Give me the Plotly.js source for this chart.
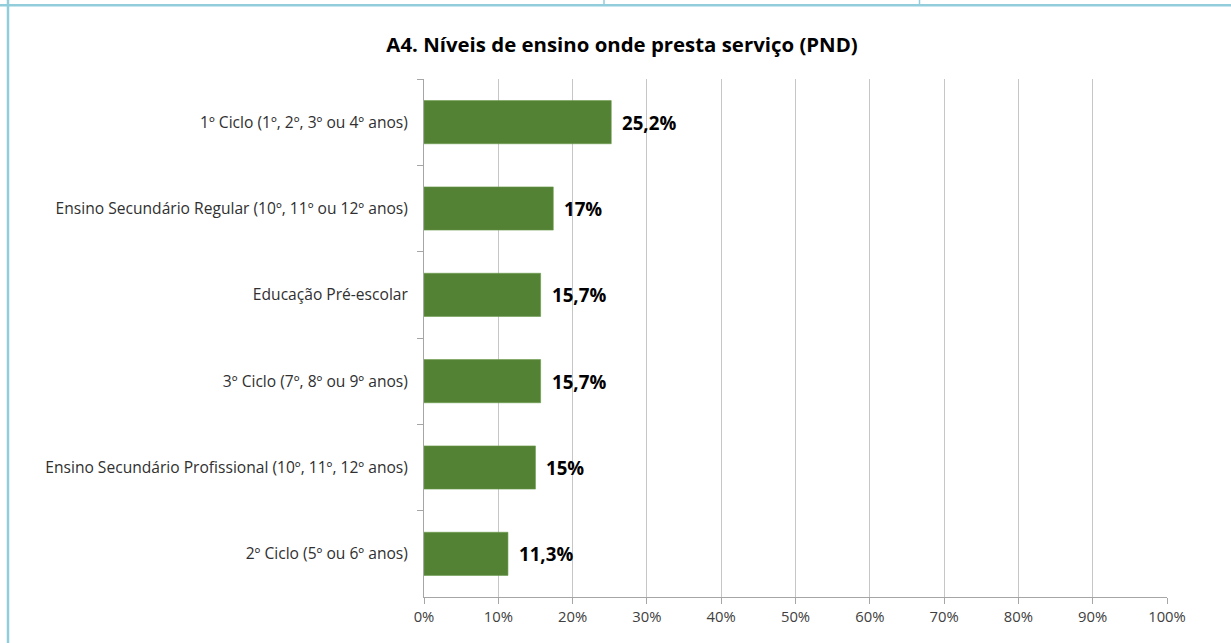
<!DOCTYPE html>
<html>
<head>
<meta charset="utf-8">
<script src="https://cdn.plot.ly/plotly-3.0.1.min.js"></script>
<style>
html,body{margin:0;padding:0;background:#fff;}
#chart{width:1231px;height:643px;}
</style>
</head>
<body>
<div id="chart"></div>
<script>
const categories = [
  "1º Ciclo (1º, 2º, 3º ou 4º anos)",
  "Ensino Secundário Regular (10º, 11º ou 12º anos)",
  "Educação Pré-escolar",
  "3º Ciclo (7º, 8º ou 9º anos)",
  "Ensino Secundário Profissional (10º, 11º, 12º anos)",
  "2º Ciclo (5º ou 6º anos)"
];
const values = [25.2, 17.4, 15.7, 15.7, 15, 11.3];
const valueLabels = ["25,2%", "17%", "15,7%", "15,7%", "15%", "11,3%"];
const tickValues = [0, 10, 20, 30, 40, 50, 60, 70, 80, 90, 100];
const tickLabels = ["0%", "10%", "20%", "30%", "40%", "50%", "60%", "70%", "80%", "90%", "100%"];
const titleText = "A4. Níveis de ensino onde presta serviço (PND)";

const W = 1231, H = 643;
const L = 424, R = 1167, T = 79, B = 597;
const px = x => (x - L) / (R - L);
const py = y => (B - y) / (B - T);
const border = "#92CDDC";
const FONT = "'Open Sans', 'Noto Sans', sans-serif";

const trace = {
  type: "bar",
  orientation: "h",
  x: values,
  y: categories,
  marker: {color: "#548235", line: {color: "#6a9a4a", width: 0.6}},
  hoverinfo: "x+y"
};

const annotations = values.map((v, i) => ({
  x: v, y: categories[i], xref: "x", yref: "y",
  text: valueLabels[i], showarrow: false, xanchor: "left", xshift: 9,
  font: {family: FONT, size: 18.7, color: "#000", weight: 700}
}));

const shapes = [
  {type: "line", xref: "paper", yref: "paper", x0: px(0), x1: px(W), y0: py(5.3), y1: py(5.3), line: {color: border, width: 2.5}},
  {type: "line", xref: "paper", yref: "paper", x0: px(8), x1: px(8), y0: py(0), y1: py(H), line: {color: border, width: 2.5}},
  {type: "line", xref: "paper", yref: "paper", x0: px(604), x1: px(604), y0: py(0), y1: py(5), line: {color: border, width: 1.5}},
  {type: "line", xref: "paper", yref: "paper", x0: px(919.5), x1: px(919.5), y0: py(0), y1: py(5), line: {color: border, width: 1.5}}
];

const layout = {
  width: W, height: H,
  margin: {l: L, r: W - R, t: T, b: H - B, pad: 0},
  paper_bgcolor: "#fff", plot_bgcolor: "#fff",
  font: {family: FONT, size: 15.5, color: "#404040"},
  title: {
    text: titleText,
    xref: "container", yref: "container",
    x: 622 / W, xanchor: "center",
    y: 1 - 45 / H, yanchor: "middle",
    font: {family: FONT, size: 20.4, color: "#000", weight: 700}
  },
  bargap: 0.5,
  showlegend: false,
  xaxis: {
    range: [0, 100],
    tickvals: tickValues,
    ticktext: tickLabels,
    showgrid: true, gridcolor: "#C6C6C6", gridwidth: 1,
    zeroline: false,
    showline: true, linecolor: "#A6A6A6", linewidth: 1,
    ticks: "outside", ticklen: 6, tickcolor: "#A6A6A6",
    tickfont: {size: 14.8, color: "#404040"},
    fixedrange: true
  },
  yaxis: {
    type: "category",
    autorange: "reversed",
    showgrid: false, zeroline: false,
    showline: true, linecolor: "#A6A6A6", linewidth: 1,
    ticks: "outside", ticklen: 6, tickcolor: "#A6A6A6",
    tickson: "boundaries",
    ticklabelstandoff: 12,
    tickfont: {size: 15.6, color: "#303030"},
    fixedrange: true
  },
  annotations: annotations,
  shapes: shapes
};

Plotly.newPlot("chart", [trace], layout, {displayModeBar: false, staticPlot: true});
</script>
</body>
</html>
